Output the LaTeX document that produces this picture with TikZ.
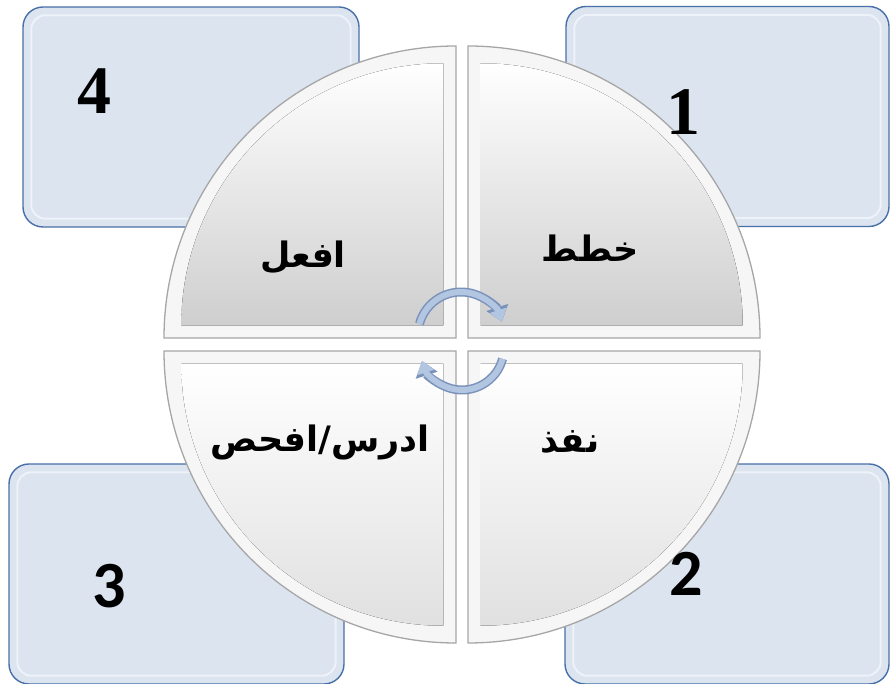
\documentclass[tikz,border=0pt]{standalone}
\usepackage{fontspec}
\setmainfont{Liberation Serif}
\newfontfamily\arabicfont[Script=Arabic]{DejaVu Sans}
\newfontfamily\numsans{Carlito}
\TeXXeTstate=1
\usetikzlibrary{arrows.meta,calc}
\definecolor{cyboxfill}{RGB}{220,228,240}
\definecolor{cyboxdraw}{RGB}{72,112,168}
\definecolor{cyboxrim}{RGB}{238,242,249}
\definecolor{cyarrow}{RGB}{178,198,226}
\definecolor{cyarrowdark}{RGB}{122,146,186}

% one quarter of the cycle disc: corner, start angle, face colour at the bottom
\newcommand{\cyclepiece}[3]{%
  \draw[gray!70,line width=1.3pt,fill=gray!7]
    (#1) -- ++(#2:292) arc[start angle=#2,end angle=#2+90,radius=292] -- cycle;
  \fill[top color=white,bottom color=#3]
    ($(#1)+(#2+45:18)$) -- ++(#2:262) arc[start angle=#2,end angle=#2+90,radius=262] -- cycle;
}

\begin{document}
\begin{tikzpicture}[x=1pt,y=1pt,
  cybox/.style={draw=cyboxdraw,fill=cyboxfill,line width=1.4pt,rounded corners=20pt,
    minimum width=#1,minimum height=220pt,inner sep=0pt},
  cyboxinner/.style={draw=cyboxrim,line width=2pt,rounded corners=14pt},
  cynum/.style={font=\fontsize{68}{70}\selectfont\bfseries,inner sep=0pt},
  cylabel/.style={font=\arabicfont\fontsize{35}{40}\selectfont\bfseries,inner sep=0pt},
  cyarr/.style={line width=9pt,cyarrowdark,-{Triangle[width=22pt,length=15pt]}},
  cyarrin/.style={line width=6pt,cyarrow,-{Triangle[width=17pt,length=12pt]}}
]
  \useasboundingbox (0,0) rectangle (891,684);

  % corner boxes
  \node[cybox=336pt] (box4) at (191,567) {};
  \node[cybox=323pt] (box1) at (727.5,567.5) {};
  \node[cybox=335pt] (box3) at (176.5,110) {};
  \node[cybox=324pt] (box2) at (727,110) {};
  \foreach \b in {box4,box1,box3,box2}
    \draw[cyboxinner] ($(\b.south west)+(9,9)$) rectangle ($(\b.north east)-(9,9)$);

  % the four pieces of the disc
  \coordinate (pplan) at (468,346);
  \coordinate (pdo) at (456,346);
  \coordinate (pstudy) at (456,333);
  \coordinate (pact) at (468,333);
  \cyclepiece{pplan}{0}{gray!38}
  \cyclepiece{pdo}{90}{gray!38}
  \cyclepiece{pstudy}{180}{gray!24}
  \cyclepiece{pact}{270}{gray!24}

  % cycle arrows
  \coordinate (arrtop) at (461,349);
  \coordinate (arrbot) at (462,336);
  \draw[cyarr] ($(arrtop)+(165:43)$) arc[start angle=165,end angle=18,radius=43];
  \draw[cyarrin] ($(arrtop)+(165:43)$) arc[start angle=165,end angle=18,radius=43];
  \draw[cyarr] ($(arrbot)+(-15:42)$) arc[start angle=-15,end angle=-162,radius=42];
  \draw[cyarrin] ($(arrbot)+(-15:42)$) arc[start angle=-15,end angle=-162,radius=42];

  % labels
  \node[cylabel] (lplan) at (590,436) {\beginR خطط\endR};
  \node[cylabel] (ldo) at (303,427) {\beginR افعل\endR};
  \node[cylabel] (lact) at (570,242) {\beginR نفذ\endR};
  \node[cylabel] (lstudy) at (320,242) {\beginR ادرس/افحص\endR};

  % numbers
  \node[cynum] (n4) at (94,593) {4};
  \node[cynum] (n1) at (683,572) {1};
  \node[cynum,font=\numsans\fontsize{66}{70}\selectfont\bfseries] (n3) at (109,98) {3};
  \node[cynum,font=\numsans\fontsize{66}{70}\selectfont\bfseries] (n2) at (686,110) {2};
\end{tikzpicture}
\end{document}
